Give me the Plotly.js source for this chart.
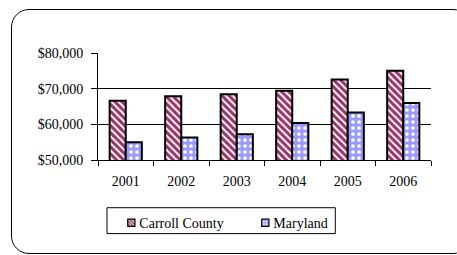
<!DOCTYPE html>
<html>
<head>
<meta charset="utf-8">
<script src="https://cdn.plot.ly/plotly-3.0.1.min.js"></script>
<style>
  html, body { margin: 0; padding: 0; background: #fff; overflow: hidden; }
  #wrap { position: relative; width: 457px; height: 255px; overflow: hidden; }
  #frame { position: absolute; left: 11px; top: 9px; width: 460px; height: 245px;
           border: 1.5px solid #000; border-radius: 18px; box-sizing: border-box; }
  #chart { position: absolute; left: 0; top: 0; width: 457px; height: 255px; }
</style>
</head>
<body>
<div id="wrap">
  <div id="frame"></div>
  <div id="chart"></div>
</div>
<script>
const years = ["2001", "2002", "2003", "2004", "2005", "2006"];
const carrollCounty = [66600, 67900, 68400, 69400, 72600, 75000];
const maryland = [55000, 56300, 57200, 60400, 63300, 66000];
const yTickVals = [50000, 60000, 70000, 80000];
const yTickText = ["$50,000", "$60,000", "$70,000", "$80,000"];

const traces = [
  {
    type: "bar", name: "Carroll County", x: years, y: carrollCounty,
    marker: {
      color: "#993366",
      line: { color: "#000", width: 2 },
      pattern: { shape: "\\", bgcolor: "#993366", fgcolor: "#ffffff", fgopacity: 1, size: 5, solidity: 0.4 }
    }
  },
  {
    type: "bar", name: "Maryland", x: years, y: maryland,
    marker: {
      color: "#9999ff",
      line: { color: "#000", width: 2 },
      pattern: { shape: ".", bgcolor: "#9999ff", fgcolor: "#ffffff", fgopacity: 1, size: 6, solidity: 0.3 }
    }
  }
];

const layout = {
  width: 457, height: 255,
  margin: { l: 98, r: 26, t: 53, b: 95 },
  paper_bgcolor: "rgba(0,0,0,0)",
  plot_bgcolor: "rgba(0,0,0,0)",
  font: { family: "Liberation Serif", size: 14, color: "#000" },
  barmode: "group",
  bargap: 0.42,
  bargroupgap: 0,
  showlegend: true,
  legend: {
    orientation: "h", x: 0.004, xanchor: "left", y: -0.59, yanchor: "middle",
    borderwidth: 0, bgcolor: "rgba(0,0,0,0)", entrywidth: 89, entrywidthmode: "pixels",
    font: { size: 14 }, itemwidth: 30, traceorder: "normal"
  },
  shapes: [
    { type: "rect", xref: "paper", yref: "paper", x0: 0.027, x1: 0.7126, y0: -0.688, y1: -0.446,
      line: { color: "#000", width: 1 }, fillcolor: "rgba(0,0,0,0)" }
  ],
  xaxis: {
    type: "category", showline: true, linecolor: "#000", linewidth: 1,
    ticks: "outside", tickson: "boundaries", ticklen: 5, tickcolor: "#000",
    ticklabelstandoff: 8, showgrid: false, zeroline: false, fixedrange: true
  },
  yaxis: {
    range: [50000, 80000], tickvals: yTickVals, ticktext: yTickText,
    showline: true, linecolor: "#000", linewidth: 1,
    ticks: "outside", ticklen: 6, tickcolor: "#000", ticklabelstandoff: 5,
    showgrid: true, gridcolor: "#000", gridwidth: 1, zeroline: false, fixedrange: true
  }
};

Plotly.newPlot("chart", traces, layout, { displayModeBar: false, staticPlot: true }).then(function (gd) {
  gd.querySelectorAll(".legend .legendpoints path").forEach(function (p) {
    p.setAttribute("transform", "translate(32,0) scale(0.6)");
  });
});
</script>
</body>
</html>
